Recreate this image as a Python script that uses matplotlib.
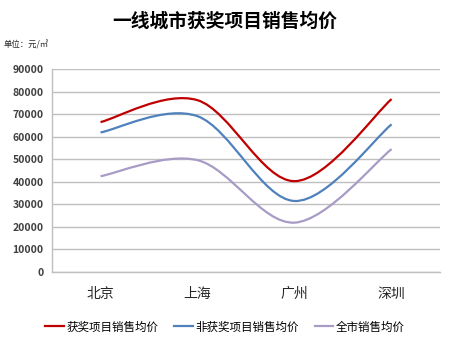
import numpy as np
import matplotlib.pyplot as plt
from matplotlib.path import Path
from matplotlib.patches import PathPatch
from matplotlib.lines import Line2D

plt.rcParams['font.family'] = ['Noto Sans CJK SC', 'DejaVu Sans']

# Data
cities = ['北京', '上海', '广州', '深圳']
award = [66500, 76200, 40300, 76700]
non_award = [61900, 69100, 31500, 65500]
city_all = [42500, 49600, 21900, 54500]
series_names = ['获奖项目销售均价', '非获奖项目销售均价', '全市销售均价']
colors = ['#C00000', '#4F81BD', '#A89BC6']
yticks = list(range(0, 90001, 10000))


def smooth_path(xs, ys):
    # Excel-style smoothed line: cubic Bezier through the points
    xs = np.asarray(xs, float)
    ys = np.asarray(ys, float)
    n = len(xs)
    px = np.concatenate([[xs[0]], xs, [xs[-1]]])
    py = np.concatenate([[ys[0]], ys, [ys[-1]]])
    verts = [(xs[0], ys[0])]
    codes = [Path.MOVETO]
    for i in range(1, n):
        c1 = (px[i] + (px[i + 1] - px[i - 1]) / 6, py[i] + (py[i + 1] - py[i - 1]) / 6)
        c2 = (px[i + 1] - (px[i + 2] - px[i]) / 6, py[i + 1] - (py[i + 2] - py[i]) / 6)
        verts += [c1, c2, (xs[i], ys[i])]
        codes += [Path.CURVE4] * 3
    return Path(verts, codes)


fig = plt.figure(figsize=(4.5, 3.49), dpi=100)
ax = fig.add_axes([0.1156, 0.2206, 0.8624, 0.5814])

x = np.arange(len(cities))
for vals, c in zip([award, non_award, city_all], colors):
    ax.add_patch(PathPatch(smooth_path(x, vals), facecolor='none',
                           edgecolor=c, lw=1.6, zorder=3))

ax.set_xlim(-0.5, len(cities) - 0.5)
ax.set_ylim(0, 90000)
ax.set_yticks(yticks)
ax.set_yticklabels([str(v) for v in yticks], fontsize=7.5,
                   fontweight='bold', color='#404040')
ax.set_xticks(x)
ax.set_xticklabels(cities, fontsize=10, color='#262626')
ax.tick_params(axis='both', length=0)
ax.tick_params(axis='x', pad=11)
ax.tick_params(axis='y', pad=6)
ax.grid(axis='y', color='#BFBFBF', lw=1)
ax.set_axisbelow(True)
for s in ['top', 'right']:
    ax.spines[s].set_visible(False)
for s in ['left', 'bottom']:
    ax.spines[s].set_color('#BFBFBF')
    ax.spines[s].set_linewidth(1)

fig.text(0.5, 0.938, '一线城市获奖项目销售均价', ha='center', va='center',
         fontsize=13.5, fontweight='bold', color='black')
fig.text(0.007, 0.872, '单位：元/㎡', ha='left', va='center',
         fontsize=6, color='#262626')

handles = [Line2D([0], [0], color=c, lw=1.6) for c in colors]
fig.legend(handles, series_names, loc='center', bbox_to_anchor=(0.5, 0.063),
           ncol=3, frameon=False, fontsize=8.3, handlelength=1.6,
           handletextpad=0.2, columnspacing=1.4)

fig.savefig('out.png', dpi=100)
